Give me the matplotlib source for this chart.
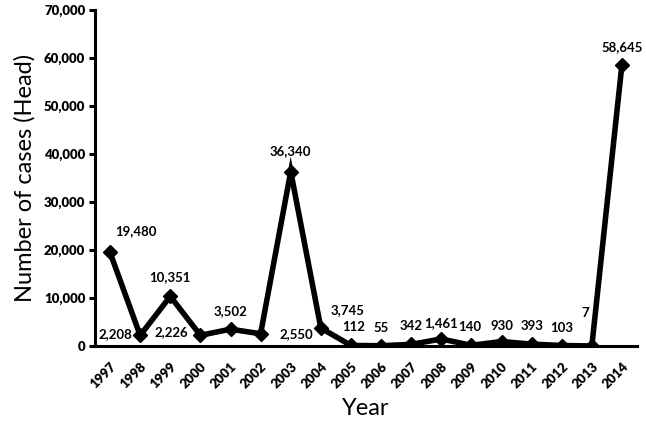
import numpy as np
import matplotlib
matplotlib.use("Agg")
import matplotlib.pyplot as plt
from matplotlib.ticker import FuncFormatter

plt.rcParams['font.family'] = ['Lato', 'DejaVu Sans']

years = [1997, 1998, 1999, 2000, 2001, 2002, 2003, 2004, 2005,
         2006, 2007, 2008, 2009, 2010, 2011, 2012, 2013, 2014]
cases = [19480, 2208, 10351, 2226, 3502, 2550, 36340, 3745, 112,
         55, 342, 1461, 140, 930, 393, 103, 7, 58645]

# label offsets in pixels (dx, dy) from each point
offsets = [(26, 21), (-25, 1), (0, 19), (-29, 3), (0, 18), (36, 0), (0, 20),
           (27, 18), (3, 18), (0, 18), (0, 18), (0, 16), (-2, 18), (0, 16),
           (0, 18), (0, 18), (-7, 33), (0, 17)]

fig = plt.figure(figsize=(6.46, 4.25), dpi=100)
ax = fig.add_axes([95/646, 1 - 346/425, (637-95)/646, 336/425])

ax.plot(years, cases, color='black', lw=4, marker='D', markersize=7.5,
        solid_joinstyle='miter', zorder=3)

for x, y, (dx, dy) in zip(years, cases, offsets):
    ax.annotate('{:,}'.format(y), (x, y), xytext=(dx*0.72, dy*0.72),
                textcoords='offset points', ha='center', va='center',
                fontsize=9.5, fontweight='bold')

ax.set_xlim(1996.5, 2014.5)
ax.set_ylim(0, 70000)
ax.set_yticks(np.arange(0, 70001, 10000))
ax.yaxis.set_major_formatter(FuncFormatter(lambda v, p: '{:,}'.format(int(v))))
ax.set_xticks(years)
ax.set_xticklabels([str(y) for y in years], rotation=45, ha='right',
                   rotation_mode='anchor', fontweight='heavy', fontsize=9.5)
for lab in ax.get_yticklabels():
    lab.set_fontweight('heavy')
    lab.set_fontsize(9.5)

ax.tick_params(axis='x', length=0, pad=10)
ax.tick_params(axis='y', length=4, width=2.2, pad=3)
for s in ['top', 'right']:
    ax.spines[s].set_visible(False)
for s in ['left', 'bottom']:
    ax.spines[s].set_linewidth(2.2)

ax.set_xlabel('Year', fontsize=17, labelpad=6)
ax.set_ylabel('Number of cases (Head)', fontsize=17, labelpad=6)

fig.savefig('out.png', dpi=100)
